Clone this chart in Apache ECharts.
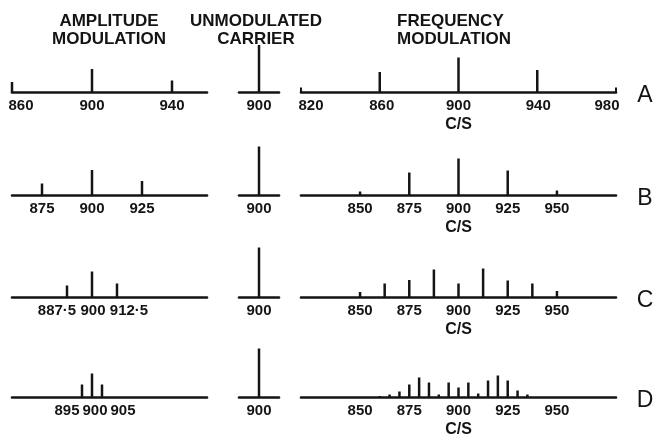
<!DOCTYPE html>
<html><head><meta charset="utf-8">
<script src="https://cdn.jsdelivr.net/npm/echarts@6/dist/echarts.min.js"></script>
<style>html,body{margin:0;padding:0;background:#fff}#c{width:658px;height:439px}</style>
</head><body><div id="c"></div>
<script>
// ---------------- DATA (frequency in c/s, amplitude in arbitrary units) ----------------
const rowNames = ['A', 'B', 'C', 'D'];
const columnTitles = ['AMPLITUDE\nMODULATION', 'UNMODULATED\nCARRIER', 'FREQUENCY\nMODULATION'];
const freqAxisName = 'C/S';

// Amplitude modulation spectra
const amFreqA = [860, 900, 940];        const amAmpA = [10.5, 23.5, 12];
const amFreqB = [875, 900, 925];        const amAmpB = [12, 25.5, 14.5];
const amFreqC = [887.5, 900, 912.5];    const amAmpC = [12, 26, 14];
const amFreqD = [895, 900, 905];        const amAmpD = [13, 24, 13];

// Unmodulated carrier (one line per row A-D)
const carrierFreq = [900];
const carrierAmp = [47.5, 49, 50, 49];

// Frequency modulation spectra
const fmFreqA = [860, 900, 940];
const fmAmpA  = [20.5, 35, 22.5];
const fmFreqB = [850, 875, 900, 925, 950];
const fmAmpB  = [4, 23, 37, 25, 5];
const fmFreqC = [850, 862.5, 875, 887.5, 900, 912.5, 925, 937.5, 950];
const fmAmpC  = [5.5, 14, 17.5, 28, 14, 29, 17, 14, 6.5];
const fmFreqD = [860, 865, 870, 875, 880, 885, 890, 895, 900, 905, 910, 915, 920, 925, 930, 935];
const fmAmpD  = [1.5, 3, 6, 13, 20, 15, 3, 15, 10, 15, 4, 17, 22, 17, 7, 3];

// Tick labels
const amTicksA = [860, 900, 940];       const amTickLabelsA = ['860', '900', '940'];
const amTicksB = [875, 900, 925];       const amTickLabelsB = ['875', '900', '925'];
const amTicksC = [887.5, 900, 912.5];   const amTickLabelsC = ['887·5', '900', '912·5'];
const amTicksD = [895, 900, 905];       const amTickLabelsD = ['895', '900', '905'];
const carrierTicks = [900];             const carrierTickLabels = ['900'];
const fmTicksA = [820, 860, 900, 940, 980];   const fmTickLabelsA = ['820', '860', '900', '940', '980'];
const fmTicksBCD = [850, 875, 900, 925, 950]; const fmTickLabelsBCD = ['850', '875', '900', '925', '950'];

// ---------------- LAYOUT / STYLE ----------------
const INK = '#141414';
const baselines = [92.5, 195.5, 297.5, 397.5];
const cols = [
  {left: 12,  width: 195, min: 860, max: 957.5},
  {left: 239, width: 40,  min: 890, max: 910},
  {left: 301, width: 315, min: 820, max: 980}
];
// horizontal label nudges (px), per panel, by label index
const nudges = {
  'am0': [9, 0, 0], 'am2': [-10, 1, 12], 'am3': [-15, 3, 21],
  'fm0': [10, 2, 0, 1, -9]
};

const panels = [];
const amF = [amFreqA, amFreqB, amFreqC, amFreqD], amA = [amAmpA, amAmpB, amAmpC, amAmpD];
const amT = [amTicksA, amTicksB, amTicksC, amTicksD], amL = [amTickLabelsA, amTickLabelsB, amTickLabelsC, amTickLabelsD];
for (let r = 0; r < 4; r++) {
  panels.push({r, c: 0, freq: amF[r], amp: amA[r], ticks: amT[r], labels: amL[r], key: 'am' + r});
  panels.push({r, c: 1, freq: carrierFreq, amp: [carrierAmp[r]], ticks: carrierTicks, labels: carrierTickLabels, key: 'cr' + r});
  panels.push({r, c: 2, freq: [fmFreqA, fmFreqB, fmFreqC, fmFreqD][r], amp: [fmAmpA, fmAmpB, fmAmpC, fmAmpD][r],
    ticks: r === 0 ? fmTicksA : fmTicksBCD, labels: r === 0 ? fmTickLabelsA : fmTickLabelsBCD, key: 'fm' + r});
}

const FONT = 'Liberation Sans';
const grid = [], xAxis = [], yAxis = [], series = [];
panels.forEach((p, i) => {
  const col = cols[p.c];
  grid.push({left: col.left, width: col.width, top: baselines[p.r] - 60, height: 60, containLabel: false, outerBoundsMode: 'none'});
  const nud = nudges[p.key] || [];
  const rich = {};
  p.labels.forEach((t, k) => {
    const s = nud[k] || 0;
    rich['n' + k] = {fontSize: 15, fontWeight: 'bold', fontFamily: FONT, color: INK,
      padding: [0, s < 0 ? -2 * s : 0, 0, s > 0 ? 2 * s : 0]};
  });
  xAxis.push({
    type: 'value', gridIndex: i, min: col.min, max: col.max,
    splitLine: {show: false},
    axisLine: {show: true, onZero: true, lineStyle: {color: INK, width: 2.6}},
    axisTick: (p.key === 'fm0') ? {show: true, inside: true, length: 5, customValues: [820, 980], lineStyle: {color: INK, width: 2}} : {show: false},
    axisLabel: {
      show: true, margin: 6, customValues: p.ticks, fontSize: 15, fontWeight: 'bold', fontFamily: FONT, color: INK,
      formatter: (v) => {
        const k = p.ticks.findIndex(t => Math.abs(t - v) < 1e-6);
        return k < 0 ? '' : '{n' + k + '|' + p.labels[k] + '}';
      },
      rich
    },
    name: p.c === 2 ? freqAxisName : '', nameLocation: 'middle', nameGap: 24,
    nameTextStyle: {fontSize: 16, fontWeight: 'bold', fontFamily: FONT, color: INK}
  });
  yAxis.push({type: 'value', gridIndex: i, min: 0, max: 60, show: false});
  series.push({
    type: 'bar', xAxisIndex: i, yAxisIndex: i, barWidth: 2.5, silent: true,
    itemStyle: {color: INK},
    data: p.freq.map((f, k) => [f, p.amp[k]])
  });
});

const graphic = [];
const titleX = [109, 256, 397];
columnTitles.forEach((t, k) => {
  graphic.push({type: 'text', x: titleX[k], y: 12, silent: true,
    style: {text: t, fill: INK, font: 'bold 17px "' + FONT + '"', lineHeight: 18,
      textAlign: k === 2 ? 'left' : 'center', align: k === 2 ? 'left' : 'center', textVerticalAlign: 'top', verticalAlign: 'top'}});
});
rowNames.forEach((t, r) => {
  graphic.push({type: 'text', x: 645, y: baselines[r] + 3, silent: true,
    style: {text: t, fill: INK, font: '23px "' + FONT + '"', textAlign: 'center', align: 'center',
      textVerticalAlign: 'middle', verticalAlign: 'middle'}});
});

const chart = echarts.init(document.getElementById('c'), null, {renderer: 'canvas'});
chart.setOption({animation: false, backgroundColor: '#fff', grid, xAxis, yAxis, series, graphic});
</script>
</body></html>
